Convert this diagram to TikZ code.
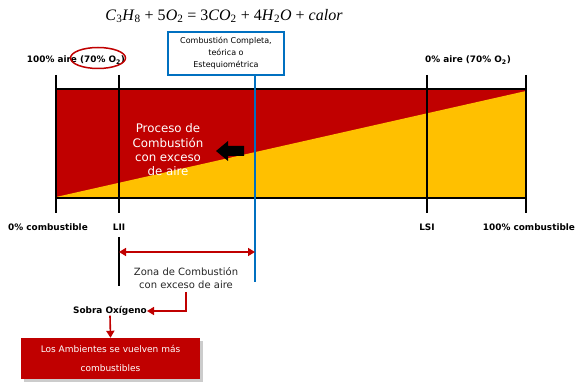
\documentclass[tikz,border=0pt]{standalone}
\usepackage{fontspec}
\setmainfont{DejaVu Sans}
\newfontfamily\tnr{Liberation Serif}
\usetikzlibrary{arrows.meta,shapes.geometric,shadows}
\definecolor{myred}{HTML}{C00000}
\definecolor{myyellow}{HTML}{FFC000}
\definecolor{myblue}{HTML}{0070C0}
\begin{document}
\begin{tikzpicture}[x=1pt,y=-1pt,
  lbl/.style={font=\fontsize{8.9}{10}\selectfont\bfseries, inner sep=0pt},
  tickline/.style={line width=1.5pt, black},
  redarr/.style={myred, line width=1.6pt, -{Triangle[length=7pt,width=8pt]}},
  redboth/.style={myred, line width=1.6pt, {Triangle[length=7pt,width=8pt]}-{Triangle[length=7pt,width=8pt]}}]
\useasboundingbox (0,0) rectangle (586,387);
% band
\fill[myred] (56,89) rectangle (526,198);
\fill[myyellow] (56,197) -- (526,91) -- (526,198) -- cycle;
\draw[line width=1.2pt] (56,89) -- (526,89);
\draw[line width=1.2pt] (56,198) -- (526,198);
% coordinates
\coordinate (t0a) at (56,75);  \coordinate (t0b) at (56,213);
\coordinate (t1a) at (119,75); \coordinate (t1b) at (119,213);
\coordinate (t2a) at (427,75); \coordinate (t2b) at (427,213);
\coordinate (t3a) at (526,75); \coordinate (t3b) at (526,213);
\draw[tickline] (t0a) -- (t0b);
\draw[tickline] (t1a) -- (t1b);
\draw[tickline] (t2a) -- (t2b);
\draw[tickline] (t3a) -- (t3b);
% equation
\node (eq) at (224,16) {\tnr\fontsize{16}{19}\selectfont
  \textit{C}\textsubscript{3}\textit{H}\textsubscript{8} + 5\textit{O}\textsubscript{2} = 3\textit{CO}\textsubscript{2} + 4\textit{H}\textsubscript{2}\textit{O} + \textit{calor}};
% top labels
\node[lbl] (topl) at (76,60) {100\% aire (70\% O\textsubscript{2})};
\node[lbl] (topr) at (468,60) {0\% aire (70\% O\textsubscript{2})};
\node[draw=myred, ellipse, line width=1.5pt, minimum width=55pt, minimum height=21pt, inner sep=0pt] (ell) at (98,58) {};
% blue box
\node[draw=myblue, line width=1.2pt, fill=white, minimum width=116pt, minimum height=43pt, align=center, inner sep=1pt,
      font=\fontsize{8}{12}\selectfont] (box) at (226,53.5) {Combustión Completa,\\teórica o\\Estequiométrica};
\coordinate (bl) at (255,282);
\draw[myblue, line width=1.5pt] (box.south -| bl) -- (bl);
% bottom labels
\node[lbl] (b0) at (48,227) {0\% combustible};
\node[lbl] (b1) at (119,227) {LII};
\node[lbl] (b2) at (427,227) {LSI};
\node[lbl] (b3) at (529,227) {100\% combustible};
% process text
\node[align=center, text=white, font=\fontsize{11.8}{14.3}\selectfont] (proc) at (168,150) {Proceso de\\Combustión\\con exceso\\de aire};
% black arrow
\fill[black] (216,151) -- (228,141) -- (228,146) -- (244,146) -- (244,156) -- (228,156) -- (228,161) -- cycle;
% LII lower line & double arrow
\coordinate (l1) at (119,237); \coordinate (l2) at (119,286);
\draw[tickline] (l1) -- (l2);
\coordinate (da) at (119,252);
\draw[redboth] (da) -- (da -| bl);
\node[align=center, text=black!85, font=\fontsize{10}{12.5}\selectfont] (zona) at (186,278) {Zona de Combustión\\con exceso de aire};
\node[lbl] (sobra) at (110,311) {Sobra Oxígeno};
\draw[redarr] (zona.south) |- (sobra.east);
\node[fill=myred, drop shadow={opacity=0.4}, minimum width=179pt, minimum height=41pt, align=center, text=white,
      font=\fontsize{9}{19}\selectfont] (res) at (110.5,358.5) {Los Ambientes se vuelven más\\combustibles};
\draw[redarr] (sobra.south) -- (res.north);
\end{tikzpicture}
\end{document}
